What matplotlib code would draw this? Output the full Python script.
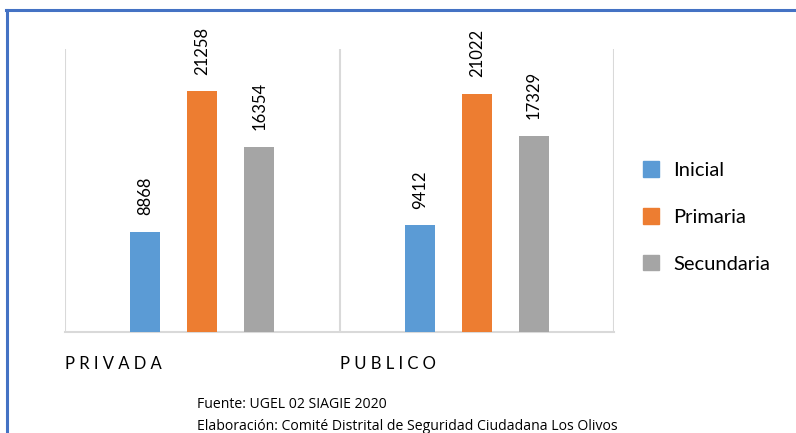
import matplotlib.pyplot as plt
from matplotlib.lines import Line2D
from matplotlib.patches import Patch
import numpy as np

plt.rcParams['font.family'] = ['Lato', 'DejaVu Sans']

categories = ['PRIVADA', 'PUBLICO']
series = ['Inicial', 'Primaria', 'Secundaria']
inicial = [8868, 9412]
primaria = [21258, 21022]
secundaria = [16354, 17329]
colors = ['#5B9BD5', '#ED7D31', '#A5A5A5']
fuente = 'Fuente: UGEL 02 SIAGIE 2020'
elaboracion = 'Elaboración: Comité Distrital de Seguridad Ciudadana Los Olivos'

fig = plt.figure(figsize=(7.96, 4.33), dpi=100)
W, H = 796, 433
ax = fig.add_axes([65 / W, (H - 332) / H, 549 / W, (332 - 49) / H])

x = np.arange(len(categories))
step = 57 / 275
width = 30 / 275
for i, (name, vals) in enumerate(zip(series, [inicial, primaria, secundaria])):
    pos = x + (i - 1) * step
    bars = ax.bar(pos, vals, width, color=colors[i], label=name, zorder=3)
    for b, v in zip(bars, vals):
        ax.annotate(str(v), (b.get_x() + b.get_width() / 2, v),
                    xytext=(0, 12), textcoords='offset points',
                    rotation=90, ha='center', va='bottom', fontsize=12)

ax.set_xlim(-0.5, 1.5)
ax.set_ylim(0, 25000)
for xv in [-0.5, 0.5, 1.5]:
    ax.axvline(xv, color='#D9D9D9', lw=1.5, zorder=1)
for s in ['top', 'right', 'left']:
    ax.spines[s].set_visible(False)
ax.spines['bottom'].set_color('#D9D9D9')
ax.spines['bottom'].set_linewidth(1.5)
ax.set_yticks([])
ax.set_xticks([])
# category labels, letter-spaced
for i, c in enumerate(categories):
    ax.text(x[i] - 0.5, -0.085, ' '.join(c), transform=ax.get_xaxis_transform(),
            ha='left', va='top', fontsize=12)

handles = [Patch(color=c) for c in colors]
fig.legend(handles, series, loc='center left', bbox_to_anchor=(625 / W, 1 - 217 / H),
           frameon=False, fontsize=14.5, handlelength=0.8, handleheight=0.8,
           handletextpad=0.7, labelspacing=1.45)

# blue border lines
fig.add_artist(Line2D([6 / W, 1], [1 - 10 / H, 1 - 10 / H], color='#4472C4', lw=2.2))
fig.add_artist(Line2D([7 / W, 7 / W], [0, 1 - 10 / H], color='#4472C4', lw=2.2))

fig.text(197 / W, 1 - 405 / H, fuente, ha='left', va='center', fontsize=10.1,
         fontfamily='Open Sans')
fig.text(197 / W, 1 - 426 / H, elaboracion, ha='left', va='center', fontsize=10.1,
         fontfamily='Open Sans')

fig.savefig('out.png', dpi=100)
